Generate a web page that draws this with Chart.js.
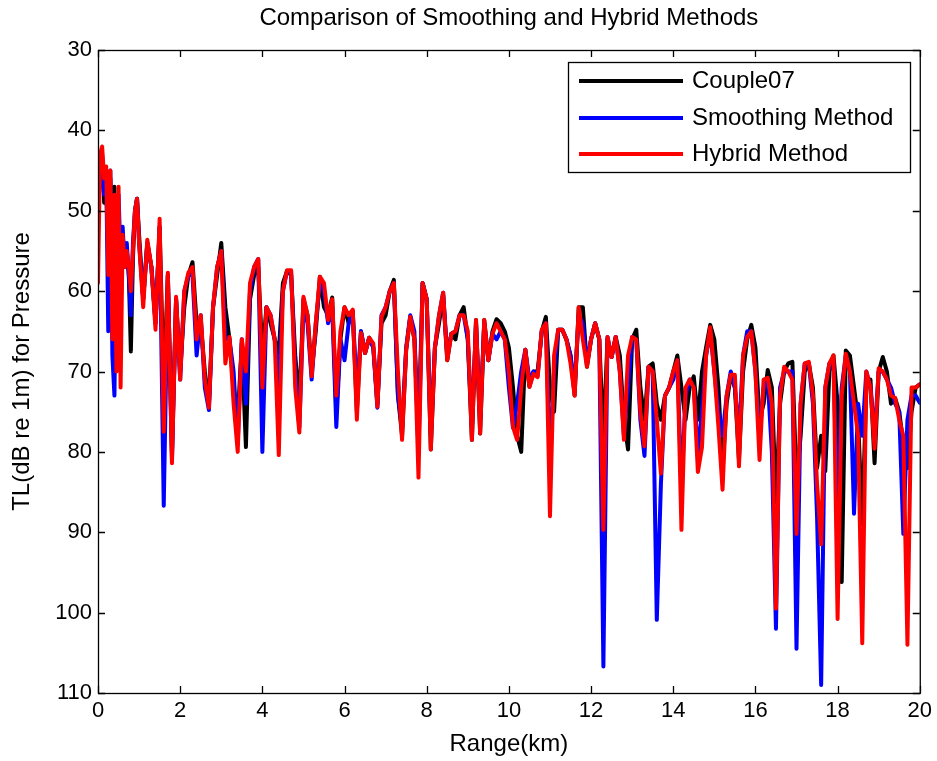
<!DOCTYPE html>
<html>
<head>
<meta charset="utf-8">
<script src="https://cdn.jsdelivr.net/npm/chart.js@4.4.1/dist/chart.umd.min.js"></script>
<style>
  html, body { margin: 0; padding: 0; background: #fff; }
  #wrap { width: 937px; height: 761px; }
</style>
</head>
<body>
<div id="wrap"><canvas id="grafico"></canvas></div>
<script>
const FONTE = "'Liberation Sans', Arial, sans-serif";

const SERIES_NAMES = ['Couple07', 'Smoothing Method', 'Hybrid Method'];
const SERIES_COLORS = ['#000000', '#0000ff', '#ff0000'];
const X_TICKS = [0, 2, 4, 6, 8, 10, 12, 14, 16, 18, 20];
const Y_TICKS = [30, 40, 50, 60, 70, 80, 90, 100, 110];

const RANGE_KM = [
    0, 0.05, 0.1, 0.15, 0.2, 0.25, 0.3, 0.35, 0.4, 0.45, 0.5, 0.55, 0.6, 0.65, 0.7, 0.75, 0.8, 0.85, 0.9, 0.95, 1,
    1.1, 1.2, 1.3, 1.4, 1.5, 1.6, 1.7, 1.8, 1.9, 2,
    2.1, 2.2, 2.3, 2.4, 2.5, 2.6, 2.7, 2.8, 2.9, 3,
    3.1, 3.2, 3.3, 3.4, 3.5, 3.6, 3.7, 3.8, 3.9, 4,
    4.1, 4.2, 4.3, 4.4, 4.5, 4.6, 4.7, 4.8, 4.9, 5,
    5.1, 5.2, 5.3, 5.4, 5.5, 5.6, 5.7, 5.8, 5.9, 6,
    6.1, 6.2, 6.3, 6.4, 6.5, 6.6, 6.7, 6.8, 6.9, 7,
    7.1, 7.2, 7.3, 7.4, 7.5, 7.6, 7.7, 7.8, 7.9, 8,
    8.1, 8.2, 8.3, 8.4, 8.5, 8.6, 8.7, 8.8, 8.9, 9,
    9.1, 9.2, 9.3, 9.4, 9.5, 9.6, 9.7, 9.8, 9.9, 10,
    10.1, 10.2, 10.3, 10.4, 10.5, 10.6, 10.7, 10.8, 10.9, 11,
    11.1, 11.2, 11.3, 11.4, 11.5, 11.6, 11.7, 11.8, 11.9, 12,
    12.1, 12.2, 12.3, 12.4, 12.5, 12.6, 12.7, 12.8, 12.9, 13,
    13.1, 13.2, 13.3, 13.4, 13.5, 13.6, 13.7, 13.8, 13.9, 14,
    14.1, 14.2, 14.3, 14.4, 14.5, 14.6, 14.7, 14.8, 14.9, 15,
    15.1, 15.2, 15.3, 15.4, 15.5, 15.6, 15.7, 15.8, 15.9, 16,
    16.1, 16.2, 16.3, 16.4, 16.5, 16.6, 16.7, 16.8, 16.9, 17,
    17.1, 17.2, 17.3, 17.4, 17.5, 17.6, 17.7, 17.8, 17.9, 18,
    18.1, 18.2, 18.3, 18.4, 18.5, 18.6, 18.7, 18.8, 18.9, 19,
    19.1, 19.2, 19.3, 19.4, 19.5, 19.6, 19.7, 19.8, 19.9, 20
];

// TL (dB re 1m)
const TL_COUPLE07 = [
    51, 45, 43, 49, 47, 55, 46, 56, 47, 60, 50, 63, 53, 56, 55, 58, 67.5, 56, 50, 48.5, 53,
    61, 54, 57, 64, 52, 72, 58, 80, 61, 70,
    62, 58, 56.4, 64, 64, 70, 74, 62, 58, 54,
    62, 66, 72, 76, 66.5, 79.4, 61, 58, 57, 68,
    62, 64, 66, 67.7, 59, 57.5, 58, 68, 74, 61,
    63, 70, 65, 58.2, 62, 63, 60.8, 75, 66, 62,
    64, 62.5, 75, 65, 67.7, 65.8, 67, 74, 64, 63,
    60, 58.6, 73, 78, 67.3, 63.2, 66, 78, 59, 61,
    79.7, 67, 64, 60.5, 68.6, 65.3, 66, 63, 62, 66,
    78.5, 63.6, 77.7, 63.6, 68.6, 65, 63.5, 64, 65, 67,
    72, 78, 80, 67.3, 71.9, 70, 70, 65, 63.2, 72,
    75, 64.8, 64.8, 66, 68, 73, 62, 62, 69.4, 66,
    64, 66, 78.5, 66, 68.2, 65.7, 68, 76, 79.7, 66,
    64.8, 72, 76, 69.4, 69, 74, 76, 73, 72, 70,
    68, 72, 76, 72, 70.6, 76, 70, 67, 64.2, 66,
    72, 82, 74, 70.4, 72, 81, 70, 66, 64.2, 67,
    76, 74, 69.8, 72, 86.3, 74, 70, 69, 68.8, 84,
    78, 70, 69, 72, 82, 78, 82.4, 70, 68, 74,
    96.2, 67.4, 68, 72, 76, 89, 72, 71, 81.4, 70,
    68.2, 70, 74, 73.3, 75, 79, 82, 75, 72, 71.6
];

const TL_SMOOTHING = [
    52, 44, 44, 48, 45, 65, 45, 68, 73, 52, 48, 56, 52, 57, 54, 58, 63, 54, 50, 48.5, 54,
    61, 54, 57, 64, 52, 86.7, 58, 81, 61, 71,
    60, 58, 58, 68, 63, 72, 74.8, 62, 57, 55,
    66, 66, 70, 79, 66, 74, 60, 57, 56, 80,
    62, 63, 66, 72, 60, 57.5, 57.5, 70, 77, 62,
    64, 71, 64, 59, 60, 64, 62, 76.9, 66, 68.6,
    64, 62.5, 73, 65, 67.7, 65.8, 67, 74.5, 63, 62,
    60, 59, 73, 77, 67, 63, 65, 80, 59, 61,
    78, 67, 63, 60.2, 68, 65.3, 65, 63, 63, 66,
    77, 64, 76, 64, 68.6, 65.3, 66, 65, 66, 72,
    77, 74, 70, 67.3, 71, 70, 70.5, 65, 64, 81.4,
    70, 64.8, 64.8, 66, 68, 72, 63, 64, 69, 66,
    64, 66, 106.7, 65.7, 68.2, 65.7, 70, 78, 72, 65.7,
    66, 76, 80.5, 69.4, 70, 100.9, 84, 73, 72, 71,
    68.6, 85, 73, 71, 72, 80, 75, 68, 65, 70,
    75, 78, 73, 70, 72, 78, 68, 65, 65, 70,
    78, 72, 71, 80, 102, 72, 70, 70, 70, 104.5,
    74, 69, 69, 74, 88, 109, 72, 69, 69, 88,
    72, 68, 70, 87.7, 74, 78, 70, 72, 78, 70,
    70, 71, 72, 74, 75, 90.2, 76, 73, 73, 73.9
];

const TL_HYBRID = [
    59, 43, 42, 46, 44.5, 58, 45, 66, 48, 70, 47, 72, 53, 57, 55, 57, 60, 55, 50, 48.5, 54,
    62, 53.6, 57, 64.8, 51, 77.5, 57.7, 81.4, 60.7, 71,
    60, 57.7, 57, 66, 63, 71, 74.5, 62, 57, 55,
    69, 65.7, 74, 80, 66, 70, 59, 57, 56, 72,
    62, 63, 66, 80.4, 60, 57.4, 57.4, 72, 77.6, 60.7,
    63, 70.6, 64, 58.2, 59, 63.6, 61, 73, 65, 62,
    63, 62.3, 76, 65.2, 67.7, 65.8, 66.5, 74.4, 63.2, 62,
    60, 59, 70, 78.5, 67.3, 63.2, 66, 83.2, 59, 61,
    79.7, 67, 63, 60.2, 68.6, 65.3, 65, 63, 63, 65,
    78.5, 63.6, 77.7, 63.6, 68.6, 65.3, 64, 65, 66, 70,
    76.9, 78.5, 72, 67.3, 71.9, 70.3, 70.7, 64.8, 64, 88,
    68, 64.8, 64.8, 66, 69, 73, 62, 66, 69.4, 66,
    64, 66, 89.7, 65.7, 68.2, 65.7, 70, 78.5, 68, 65.7,
    66, 75, 79.3, 69.4, 70, 76, 82.7, 73, 72, 70,
    68.6, 89.7, 72, 71, 72, 82.5, 79.4, 68, 64.5, 70,
    76.9, 84.7, 73, 70.4, 70.4, 81.8, 68, 65.7, 65, 70,
    81, 71, 70.8, 74, 99.5, 73, 69.4, 70, 71, 90.2,
    74, 69, 68.8, 73, 84, 91.5, 72, 69, 68, 100.8,
    73, 67.8, 70, 74, 78, 103.8, 70, 72, 79.6, 69.6,
    70, 71, 73, 73.3, 76, 78, 104, 72, 72, 71.6
];

const SERIES_VALUES = [TL_COUPLE07, TL_SMOOTHING, TL_HYBRID];

function montarPontos(valores) {
    return RANGE_KM.map((x, i) => ({ x: x, y: valores[i] }));
}

// caixa estilo MATLAB: moldura, ticks para dentro nos 4 lados e legenda
const molduraPlugin = {
    id: 'moldura',
    afterDatasetsDraw(chart) {
        const { ctx, chartArea: a, scales } = chart;
        const sx = scales.x;
        const sy = scales.y;
        const tick = 7;
        ctx.save();
        ctx.strokeStyle = '#000';
        ctx.lineWidth = 1.3;
        ctx.strokeRect(a.left + 0.5, a.top + 0.5, a.right - a.left, a.bottom - a.top);
        ctx.beginPath();
        X_TICKS.forEach(v => {
            const px = Math.round(sx.getPixelForValue(v)) + 0.5;
            ctx.moveTo(px, a.bottom); ctx.lineTo(px, a.bottom - tick);
            ctx.moveTo(px, a.top); ctx.lineTo(px, a.top + tick);
        });
        Y_TICKS.forEach(v => {
            const py = Math.round(sy.getPixelForValue(v)) + 0.5;
            ctx.moveTo(a.left, py); ctx.lineTo(a.left + tick, py);
            ctx.moveTo(a.right, py); ctx.lineTo(a.right - tick, py);
        });
        ctx.stroke();

        // legenda
        const lx = 568, ly = 62, lw = 342, lh = 110;
        ctx.fillStyle = '#fff';
        ctx.fillRect(lx, ly, lw, lh);
        ctx.strokeRect(lx + 0.5, ly + 0.5, lw, lh);
        const rows = [81, 118, 154];
        ctx.font = '24px ' + FONTE;
        ctx.textBaseline = 'middle';
        chart.data.datasets.forEach((ds, i) => {
            ctx.strokeStyle = ds.borderColor;
            ctx.lineWidth = 4;
            ctx.beginPath();
            ctx.moveTo(579, rows[i]);
            ctx.lineTo(683, rows[i]);
            ctx.stroke();
            ctx.fillStyle = '#000';
            ctx.fillText(ds.label, 692, rows[i]);
        });
        ctx.restore();
    }
};

const ctx = document.getElementById('grafico').getContext('2d');
new Chart(ctx, {
    type: 'line',
    data: {
        datasets: SERIES_NAMES.map((nome, i) => ({
            label: nome,
            data: montarPontos(SERIES_VALUES[i]),
            borderColor: SERIES_COLORS[i],
            backgroundColor: SERIES_COLORS[i],
            borderWidth: 4,
            pointRadius: 0,
            tension: 0,
            borderJoinStyle: 'round',
            borderCapStyle: 'round',
            order: 3 - i
        }))
    },
    options: {
        responsive: true,
        maintainAspectRatio: false,
        animation: false,
        layout: { padding: { left: 0, right: 15, top: 0, bottom: 0 }, autoPadding: false },
        plugins: {
            legend: { display: false },
            tooltip: { enabled: false },
            title: {
                display: true,
                fullSize: false,
                text: 'Comparison of Smoothing and Hybrid Methods',
                color: '#000',
                font: { family: FONTE, size: 24, weight: 'normal' },
                padding: { top: 4, bottom: 17.2 }
            }
        },
        scales: {
            x: {
                type: 'linear',
                min: 0,
                max: 20,
                grid: { display: false, drawTicks: false },
                border: { display: false },
                ticks: { stepSize: 2, color: '#000', padding: 5, maxRotation: 0, font: { family: FONTE, size: 22 } },
                title: { display: true, text: 'Range(km)', color: '#000', padding: { top: 0, bottom: 2 }, font: { family: FONTE, size: 24 } },
                afterFit(scale) { scale.height = 68; }
            },
            y: {
                type: 'linear',
                reverse: true,
                min: 30,
                max: 110,
                grid: { display: false, drawTicks: false },
                border: { display: false },
                ticks: { stepSize: 10, color: '#000', padding: 6, font: { family: FONTE, size: 22 } },
                title: { display: true, text: 'TL(dB re 1m) for Pressure', color: '#000', padding: { top: 8, bottom: 0 }, font: { family: FONTE, size: 24 } },
                afterFit(scale) { scale.width = 98; }
            }
        }
    },
    plugins: [molduraPlugin]
});
</script>
</body>
</html>
